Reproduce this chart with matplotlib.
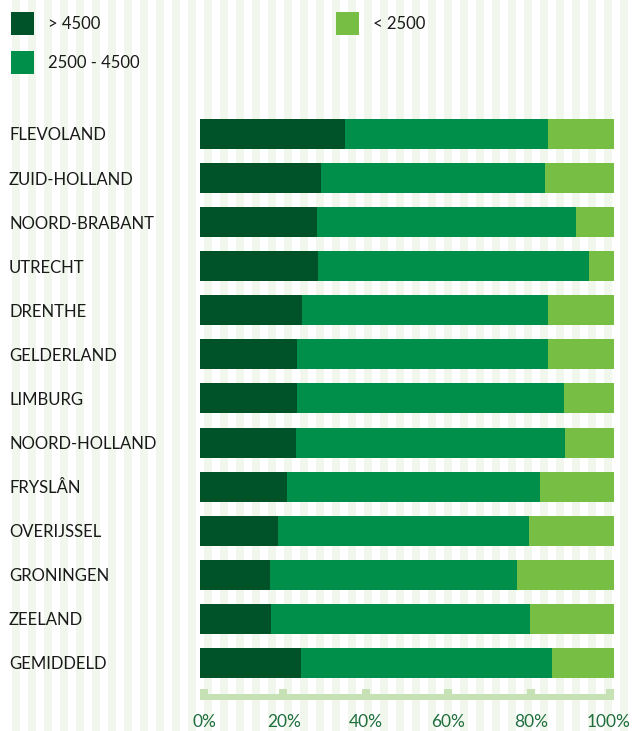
import matplotlib
matplotlib.use("Agg")
import matplotlib.pyplot as plt
from matplotlib.patches import Rectangle
import matplotlib.transforms as mtransforms
import numpy as np

plt.rcParams['font.family'] = ['Lato', 'DejaVu Sans']

# data (percentages)
provinces = ["FLEVOLAND", "ZUID-HOLLAND", "NOORD-BRABANT", "UTRECHT", "DRENTHE",
             "GELDERLAND", "LIMBURG", "NOORD-HOLLAND", "FRYSLÂN", "OVERIJSSEL",
             "GRONINGEN", "ZEELAND", "GEMIDDELD"]
high = [35.0, 29.2, 28.3, 28.5, 24.6, 23.4, 23.4, 23.2, 21.0, 18.8, 16.9, 17.1, 24.4]
middle = [49.1, 54.1, 62.5, 65.5, 59.5, 60.7, 64.5, 65.0, 61.1, 60.7, 59.7, 62.6, 60.6]
low = [15.9, 16.7, 9.2, 6.0, 15.9, 15.9, 12.1, 11.8, 17.9, 20.5, 23.4, 20.3, 15.0]
series_names = ["> 4500", "2500 - 4500", "< 2500"]
colors = ["#005228", "#008f4b", "#77be44"]
xticks = [0, 20, 40, 60, 80, 100]
xtick_labels = ["0%", "20%", "40%", "60%", "80%", "100%"]

W, H = 634, 731
fig = plt.figure(figsize=(W / 100, H / 100), dpi=100)
fig.patch.set_facecolor("white")

# striped background
bg = fig.add_axes([0, 0, 1, 1], zorder=0)
bg.set_xlim(0, W)
bg.set_ylim(H, 0)
bg.axis("off")
for x in range(12, W, 16):
    bg.axvspan(x, x + 8, color="#f1f7ec", lw=0)

# main axes (pixel layout: x 200..614, top 90, bottom 705)
top_px, bot_px = 90, 705
c0, pitch = 134, 44.08  # pixel centre of first bar, bar spacing
ax = fig.add_axes([200 / W, 1 - bot_px / H, 414 / W, (bot_px - top_px) / H], zorder=1)
ax.patch.set_alpha(0)
y = np.arange(len(provinces))
left = np.zeros(len(provinces))
for vals, c in zip([high, middle, low], colors):
    ax.barh(y, vals, left=left, height=30 / pitch, color=c, lw=0)
    left = left + np.array(vals)

ax.set_xlim(0, 100)
ax.set_ylim((bot_px - c0) / pitch, (top_px - c0) / pitch)
for s in ax.spines.values():
    s.set_visible(False)

ax.set_yticks(y)
ax.set_yticklabels(provinces)
ax.tick_params(axis="y", length=0, pad=191 * 0.72, labelsize=12, labelcolor="#1a1a1a")
for lab in ax.get_yticklabels():
    lab.set_ha("left")

# bottom axis line with blocks
line_col = "#c6e2b4"
y_line_top = (694 - c0) / pitch
y_line_bot = (700 - c0) / pitch
y_block_top = (689 - c0) / pitch
ax.add_patch(Rectangle((0, y_line_top), 100, y_line_bot - y_line_top, color=line_col, lw=0, clip_on=False))
bw = 8 / 4.14
for t in xticks:
    l = min(max(t - bw / 2, 0), 100 - bw)
    ax.add_patch(Rectangle((l, y_block_top), bw, y_line_bot - y_block_top, color=line_col, lw=0, clip_on=False))

# tick labels, end labels pulled inwards a little
ax.set_xticks([])
shifts = [4, 1, 0, 0, 0, -5]
for t, lab, dx in zip(xticks, xtick_labels, shifts):
    tr = mtransforms.offset_copy(ax.get_xaxis_transform(), fig=fig, x=dx * 0.72, y=0, units="points")
    ax.text(t, -(722 - bot_px) / (bot_px - top_px), lab, transform=tr, ha="center", va="center",
            fontsize=12.5, color="#1f6e3e")

# legend
leg = [(11, 12, 48), (11, 51, 48), (336, 12, 373)]
for (sx, sy, tx), name, c in zip(leg, series_names, colors):
    fig.add_artist(Rectangle((sx / W, 1 - (sy + 23) / H), 23 / W, 23 / H, color=c, lw=0,
                             transform=fig.transFigure))
    fig.text(tx / W, 1 - (sy + 12) / H, name, ha="left", va="center", fontsize=12, color="#1a1a1a")

fig.savefig("out.png", dpi=100)
